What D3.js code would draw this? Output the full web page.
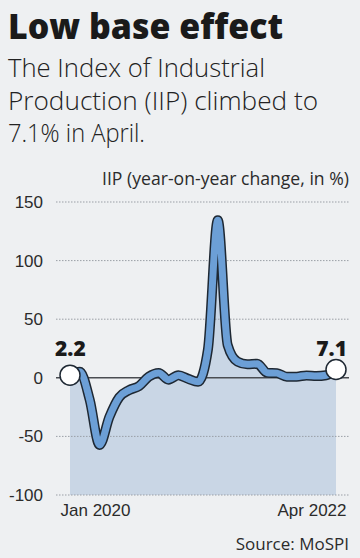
<!DOCTYPE html>
<html lang="en">
<head>
    <meta charset="UTF-8">
    <title>Low base effect</title>
    <style>
        body {
            margin: 0;
            background: #eef0f2;
        }
        svg {
            display: block;
            font-family: "Open Sans", sans-serif;
        }
        .grid line {
            stroke: #9a9fa6;
            stroke-width: 1;
            stroke-dasharray: 1.5 1.5;
        }
        .tick-label {
            font-size: 17px;
            fill: #2b2b2b;
        }
    </style>
</head>
<body>
    <svg id="chart"></svg>

    <script src="https://d3js.org/d3.v7.min.js"></script>
    <script>
        // IIP, year-on-year change in %, Jan 2020 to Apr 2022
        const months = ["Jan 2020", "Feb 2020", "Mar 2020", "Apr 2020", "May 2020", "Jun 2020",
            "Jul 2020", "Aug 2020", "Sep 2020", "Oct 2020", "Nov 2020", "Dec 2020",
            "Jan 2021", "Feb 2021", "Mar 2021", "Apr 2021", "May 2021", "Jun 2021",
            "Jul 2021", "Aug 2021", "Sep 2021", "Oct 2021", "Nov 2021", "Dec 2021",
            "Jan 2022", "Feb 2022", "Mar 2022", "Apr 2022"];
        const iip = [2.2, 5.2, -18.7, -57.3, -33.4, -16.6, -10.5, -7.1, 1.0, 4.2, -1.6, 2.2,
            -0.9, -3.4, 24.2, 134.4, 28.0, 13.8, 11.5, 12.0, 4.4, 4.0, 1.0, 1.0,
            2.0, 1.5, 2.2, 7.1];
        const yTicks = [150, 100, 50, 0, -50, -100];
        const xLabels = ["Jan 2020", "Apr 2022"];

        const w = 360, h = 558;
        const svg = d3.select("#chart").attr("width", w).attr("height", h);

        // headline + deck
        svg.append("text")
            .attr("x", 8).attr("y", 39)
            .attr("font-size", 36).attr("font-weight", 800)
            .attr("fill", "#1a1a1a")
            .attr("textLength", 275).attr("lengthAdjust", "spacingAndGlyphs")
            .text("Low base effect");

        const deck = ["The Index of Industrial", "Production (IIP) climbed to", "7.1% in April."];
        const deckWidth = [257, 310, 137];
        svg.selectAll(".deck")
            .data(deck)
            .enter()
            .append("text")
            .attr("class", "deck")
            .attr("x", 8)
            .attr("y", (d, i) => 77 + i * 32.5)
            .attr("font-size", 25.5)
            .attr("font-weight", 300)
            .attr("fill", "#222")
            .attr("textLength", (d, i) => deckWidth[i])
            .attr("lengthAdjust", "spacingAndGlyphs")
            .text(d => d);

        svg.append("text")
            .attr("x", 349).attr("y", 185)
            .attr("text-anchor", "end")
            .attr("font-size", 18)
            .attr("fill", "#2b2b2b")
            .attr("textLength", 247).attr("lengthAdjust", "spacingAndGlyphs")
            .text("IIP (year-on-year change, in %)");

        // scales
        const x = d3.scalePoint().domain(months).range([70, 336]);
        const y = d3.scaleLinear().domain([-100, 150]).range([495, 202]);
        const left = 56, right = 349;

        // area under the line, down to the axis floor
        const area = d3.area()
            .x((d, i) => x(months[i]))
            .y0(y(-100))
            .y1(d => y(d))
            .curve(d3.curveMonotoneX);

        svg.append("path")
            .datum(iip)
            .attr("d", area)
            .attr("fill", "#c9d6e5");

        // gridlines
        const grid = svg.append("g").attr("class", "grid");
        grid.selectAll("line")
            .data(yTicks.filter(d => d !== 0))
            .enter()
            .append("line")
            .attr("x1", left).attr("x2", right)
            .attr("y1", d => y(d)).attr("y2", d => y(d));

        svg.append("line")
            .attr("x1", left).attr("x2", right)
            .attr("y1", y(0)).attr("y2", y(0))
            .attr("stroke", "#4a4d52").attr("stroke-width", 1.5);

        // y axis labels (plain hyphen for negatives, like the original)
        const yAxis = d3.axisLeft(y).tickValues(yTicks).tickSize(0).tickPadding(0)
            .tickFormat(d => String(d));
        const gy = svg.append("g").attr("transform", "translate(43,0)").call(yAxis);
        gy.select(".domain").remove();
        gy.selectAll("text")
            .attr("class", "tick-label")
            .attr("font-family", null)
            .attr("font-size", null);

        // x labels
        const gx = svg.append("g").attr("transform", "translate(0,498)")
            .call(d3.axisBottom(x).tickValues(xLabels).tickSize(0).tickPadding(0));
        gx.select(".domain").remove();
        gx.selectAll("text")
            .attr("class", "tick-label")
            .attr("font-family", null)
            .attr("font-size", null)
            .attr("dy", "1.05em")
            .attr("text-anchor", (d, i) => i === 0 ? "start" : "end")
            .attr("dx", (d, i) => i === 0 ? -10 : 10);

        // line: dark casing + blue core
        const line = d3.line()
            .x((d, i) => x(months[i]))
            .y(d => y(d))
            .curve(d3.curveMonotoneX);

        svg.append("path")
            .datum(iip)
            .attr("d", line)
            .attr("fill", "none")
            .attr("stroke", "#1e2833")
            .attr("stroke-width", 10)
            .attr("stroke-linejoin", "round")
            .attr("stroke-linecap", "round");

        svg.append("path")
            .datum(iip)
            .attr("d", line)
            .attr("fill", "none")
            .attr("stroke", "#6c9fd6")
            .attr("stroke-width", 7)
            .attr("stroke-linejoin", "round")
            .attr("stroke-linecap", "round");

        // end markers
        const ends = [0, iip.length - 1];
        svg.selectAll(".end")
            .data(ends)
            .enter()
            .append("circle")
            .attr("cx", i => x(months[i]))
            .attr("cy", i => y(iip[i]))
            .attr("r", 10)
            .attr("fill", "#fff")
            .attr("stroke", "#1e2833")
            .attr("stroke-width", 1.5);

        svg.selectAll(".end-label")
            .data(ends)
            .enter()
            .append("text")
            .attr("x", (i, k) => k === 0 ? 55 : 347)
            .attr("y", 356)
            .attr("text-anchor", (i, k) => k === 0 ? "start" : "end")
            .attr("font-size", 21)
            .attr("font-weight", 800)
            .attr("fill", "#1a1a1a")
            .text(i => iip[i]);

        svg.append("text")
            .attr("x", 349).attr("y", 550)
            .attr("text-anchor", "end")
            .attr("class", "tick-label")
            .text("Source: MoSPI");
    </script>
</body>
</html>
